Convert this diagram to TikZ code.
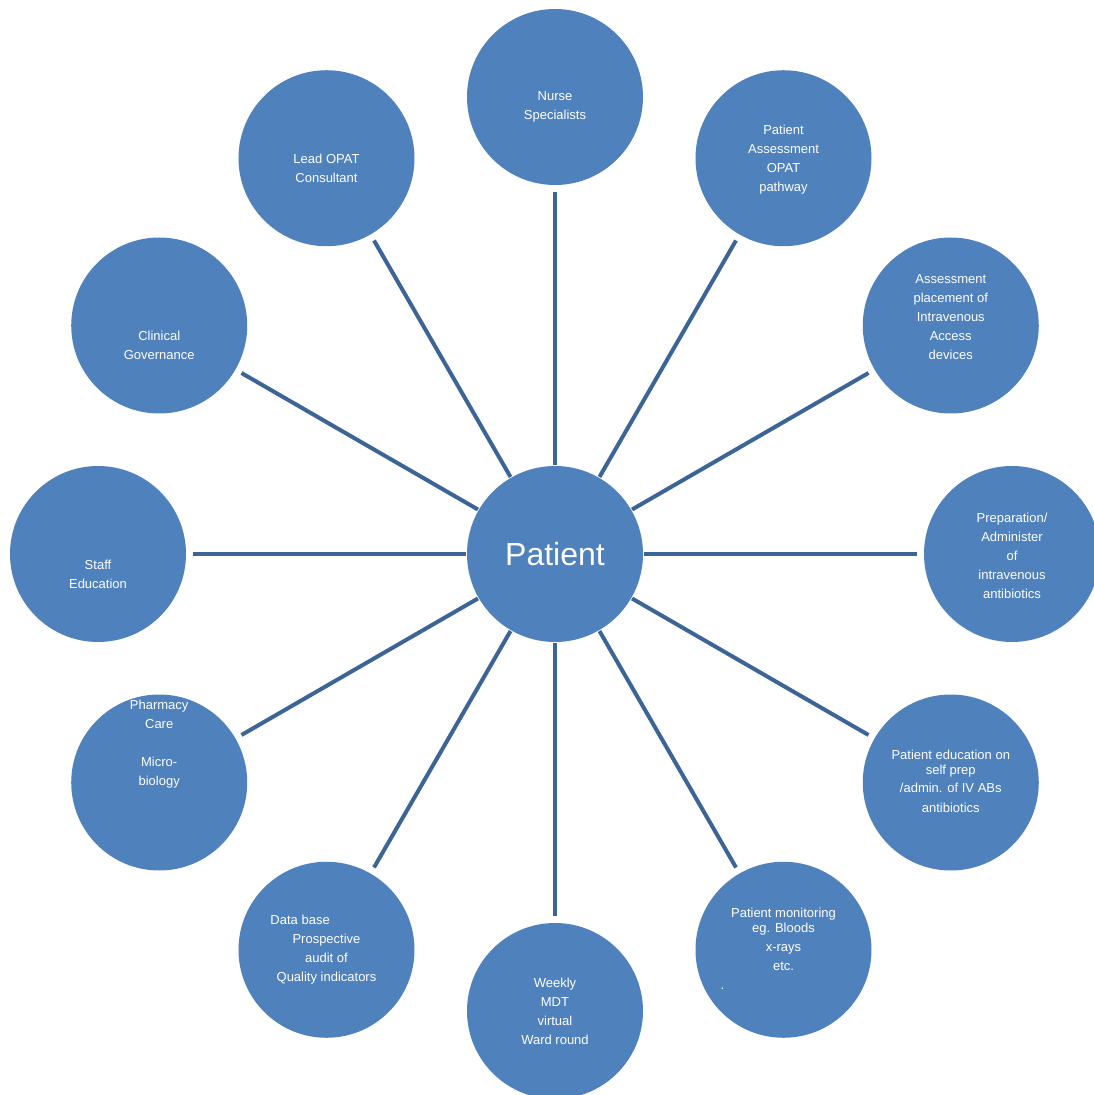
\documentclass[tikz,border=0pt]{standalone}
\usepackage{fontspec}
\setmainfont{Liberation Sans}
\definecolor{hubBlue}{RGB}{79,129,189}
\definecolor{spokeBlue}{RGB}{60,100,150}
\tikzset{
  hub/.style={circle,fill=hubBlue,minimum size=176pt,inner sep=0pt,outer sep=0pt,text=white},
  spoke/.style={draw=spokeBlue,line width=4pt,shorten <=1pt,shorten >=7pt},
  tag/.style={text=white,align=center,font=\fontsize{13}{19}\selectfont,inner sep=0pt,yshift=-1.5pt}
}
\begin{document}
\begin{tikzpicture}
        \useasboundingbox (-555pt,-541pt) rectangle (539pt,554pt);
        \def\R{457pt}
        \node[hub,font=\fontsize{32}{38}\selectfont] (patient) at (0,0) {Patient};
        \foreach \i/\ang/\dy/\txt in {
          nurse/90/-8.5pt/{Nurse\\Specialists},
          assess/60/0pt/{Patient\\Assessment\\OPAT\\pathway},
          access/30/9.6pt/{Assessment\\placement of\\Intravenous\\Access\\devices},
          prep/0/0pt/{Preparation/\\Administer\\of\\intravenous\\antibiotics},
          educ/-30/3pt/{Patient education on\\[-4pt]self prep\\[-1pt]/admin. of IV ABs\\[1pt]antibiotics},
          monitor/-60/2pt/{Patient monitoring\\[-4pt]eg. Bloods\\x-rays\\etc.\\\makebox[126pt][l]{.}},
          mdt/-90/1pt/{Weekly\\MDT\\virtual\\Ward round},
          audit/-120/1.5pt/{\makebox[112pt][l]{Data base}\\Prospective\\audit of\\Quality indicators},
          pharm/-150/39.6pt/{Pharmacy\\Care\\[19pt]Micro-\\biology},
          staff/180/-18.5pt/{Staff\\Education},
          govern/150/-18.5pt/{Clinical\\Governance},
          lead/120/-9pt/{Lead OPAT\\Consultant}}
        {
        \node[hub] (\i) at (\ang:\R) {};
        \node[tag,yshift=\dy] (\i-txt) at (\i) {\txt};
        \draw[spoke] (patient) -- (\i);
        }
    \end{tikzpicture}
\end{document}
